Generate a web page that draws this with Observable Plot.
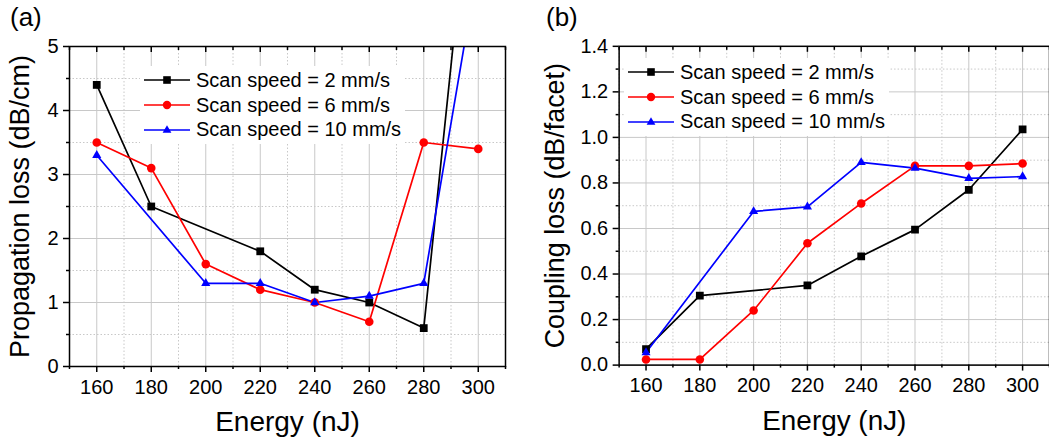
<!DOCTYPE html>
<html>
<head>
<meta charset="utf-8">
<script src="https://cdn.jsdelivr.net/npm/d3@7"></script>
<script src="https://cdn.jsdelivr.net/npm/@observablehq/plot@0.6"></script>
<style>
  html, body { margin: 0; padding: 0; background: #fff; }
  body { width: 1049px; height: 440px; position: relative; overflow: hidden; font-family: "Liberation Sans", Arial, sans-serif; }
  .panel { position: absolute; top: 0; }
  .panel svg g[aria-label$="tick label"] { font-size: 20px; }
  .panel svg g.axis-title { font-size: 27px; }
  .panel svg g.axis-title-x { font-size: 28px; }
  .tag { position: absolute; top: 2px; font-size: 26px; color: #000; }
  .legend { position: absolute; background: #fff; font-size: 20px; color: #000; padding: 2px 4px 2px 4px; }
  .legend .row { display: flex; align-items: center; height: 24.7px; white-space: nowrap; }
  .legend svg { display: block; margin-right: 6px; }
</style>
</head>
<body>
<div id="a" class="panel" style="left:0px"></div>
<div id="b" class="panel" style="left:520px"></div>
<div class="tag" style="left:10px">(a)</div>
<div class="tag" style="left:546px">(b)</div>
<div id="legA" class="legend" style="left:140px; top:66px;"></div>
<div id="legB" class="legend" style="left:624px; top:58px;"></div>
<script>
// ---- data ----
const energy = [160, 180, 200, 220, 240, 260, 280, 300];
const seriesNames = ["Scan speed = 2 mm/s", "Scan speed = 6 mm/s", "Scan speed = 10 mm/s"];
const seriesColors = ["#000000", "#ff0000", "#0000ff"];
const seriesSymbols = ["square", "circle", "triangle"];

// (a) propagation loss (dB/cm)
const propLoss2 = [4.4, 2.5, null, 1.8, 1.2, 1.0, 0.6, 8.8];
const propLoss6 = [3.5, 3.1, 1.6, 1.2, 1.0, 0.7, 3.5, 3.4];
const propLoss10 = [3.3, null, 1.3, 1.3, 1.0, 1.1, 1.3, 6.3];

// (b) coupling loss (dB/facet)
const coupLoss2 = [0.07, 0.305, null, 0.35, 0.478, 0.595, 0.77, 1.035];
const coupLoss6 = [0.025, 0.025, 0.24, 0.535, 0.71, 0.875, 0.875, 0.885];
const coupLoss10 = [0.055, null, 0.675, 0.695, 0.89, 0.865, 0.82, 0.828];

const xMajor = [160, 180, 200, 220, 240, 260, 280, 300];
const xMinor = [150, 170, 190, 210, 230, 250, 270, 290, 310];
const yMajorA = [0, 1, 2, 3, 4, 5];
const yMinorA = [0.5, 1.5, 2.5, 3.5, 4.5];
const yMajorB = [0, 0.2, 0.4, 0.6, 0.8, 1.0, 1.2, 1.4];
const yMinorB = [0.1, 0.3, 0.5, 0.7, 0.9, 1.1, 1.3];

function rows(lists) {
  const out = [];
  lists.forEach((vals, s) => {
    energy.forEach((e, i) => {
      if (vals[i] != null) out.push({energy: e, value: vals[i], series: seriesNames[s]});
    });
  });
  return out;
}

const symbolR = {square: 4.4, circle: 4.3, triangle: 3.4};

function panel(el, {data, yDomain, yMajor, yMinor, yFormat, yLabel, width, marginLeft, marginRight, yLabelDx}) {
  const marks = [
    Plot.gridX(xMinor, {stroke: "#c8c8c8", strokeOpacity: 1, strokeDasharray: "1.5,2"}),
    Plot.gridY(yMinor, {stroke: "#c8c8c8", strokeOpacity: 1, strokeDasharray: "1.5,2"}),
    Plot.gridX(xMajor, {stroke: "#c8c8c8", strokeOpacity: 1}),
    Plot.gridY(yMajor, {stroke: "#c8c8c8", strokeOpacity: 1}),
  ];
  seriesNames.forEach((name, s) => {
    const d = data.filter(r => r.series === name);
    marks.push(Plot.line(d, {x: "energy", y: "value", stroke: seriesColors[s], strokeWidth: 1.7, clip: "frame"}));
  });
  seriesNames.forEach((name, s) => {
    const d = data.filter(r => r.series === name);
    marks.push(Plot.dot(d, {x: "energy", y: "value", fill: seriesColors[s], stroke: "none", symbol: () => seriesSymbols[s], r: symbolR[seriesSymbols[s]], clip: "frame"}));
  });
  marks.push(
    Plot.axisX({ticks: xMajor, tickSize: 6, tickPadding: 7, fontSize: 20, strokeWidth: 1.5, label: null}),
    Plot.axisX({ticks: xMinor, tickSize: 3, tickFormat: () => "", strokeWidth: 1.5, label: null}),
    Plot.axisX({anchor: "top", ticks: xMajor, tickSize: -5, tickFormat: () => "", strokeWidth: 1.5, label: null}),
    Plot.axisX({anchor: "top", ticks: xMinor, tickSize: -3, tickFormat: () => "", strokeWidth: 1.5, label: null}),
    Plot.axisY({ticks: yMajor, tickSize: 6, tickPadding: 5, fontSize: 20, strokeWidth: 1.5, tickFormat: yFormat, label: null}),
    Plot.axisY({ticks: yMinor, tickSize: 3, tickFormat: () => "", strokeWidth: 1.5, label: null}),
    Plot.frame({stroke: "#000", strokeWidth: 1.5}),
    Plot.text(["Energy (nJ)"], {frameAnchor: "bottom", dy: 45, fontSize: 28, lineAnchor: "top", textAnchor: "middle", className: "axis-title-x"}),
    Plot.text([yLabel], {frameAnchor: "left", dx: yLabelDx, rotate: -90, fontSize: 27, textAnchor: "middle", lineAnchor: "middle", className: "axis-title"})
  );
  const chart = Plot.plot({
    width, height: 440,
    marginLeft, marginRight, marginTop: 46, marginBottom: 74,
    x: {domain: [150, 310]},
    y: {domain: yDomain},
    style: {fontFamily: "'Liberation Sans', Arial, sans-serif", fontSize: "20px", color: "#000", background: "transparent", overflow: "visible"},
    marks
  });
  el.appendChild(chart);
}

panel(document.getElementById("a"), {
  data: rows([propLoss2, propLoss6, propLoss10]),
  yDomain: [0, 5], yMajor: yMajorA, yMinor: yMinorA, yFormat: d3.format("d"),
  yLabel: "Propagation loss (dB/cm)", width: 520, marginLeft: 69, marginRight: 15, yLabelDx: -49
});
panel(document.getElementById("b"), {
  data: rows([coupLoss2, coupLoss6, coupLoss10]),
  yDomain: [0, 1.4], yMajor: yMajorB, yMinor: yMinorB, yFormat: d3.format(".1f"),
  yLabel: "Coupling loss (dB/facet)", width: 531, marginLeft: 99, marginRight: 0, yLabelDx: -64
});

function legend(el, w) {
  seriesNames.forEach((name, s) => {
    const row = document.createElement("div");
    row.className = "row";
    const sym = seriesSymbols[s];
    const c = seriesColors[s];
    let shape;
    if (sym === "square") shape = `<rect x="${w/2-3.8}" y="6.2" width="7.6" height="7.6" fill="${c}"/>`;
    else if (sym === "circle") shape = `<circle cx="${w/2}" cy="10" r="4.2" fill="${c}"/>`;
    else shape = `<path d="M${w/2},5.2 L${w/2+4.4},12.8 L${w/2-4.4},12.8 Z" fill="${c}"/>`;
    row.innerHTML = `<svg width="${w}" height="20"><line x1="0" x2="${w}" y1="10" y2="10" stroke="${c}" stroke-width="1.6"/>${shape}</svg><span>${name}</span>`;
    el.appendChild(row);
  });
}
legend(document.getElementById("legA"), 46);
legend(document.getElementById("legB"), 46);
</script>
</body>
</html>
